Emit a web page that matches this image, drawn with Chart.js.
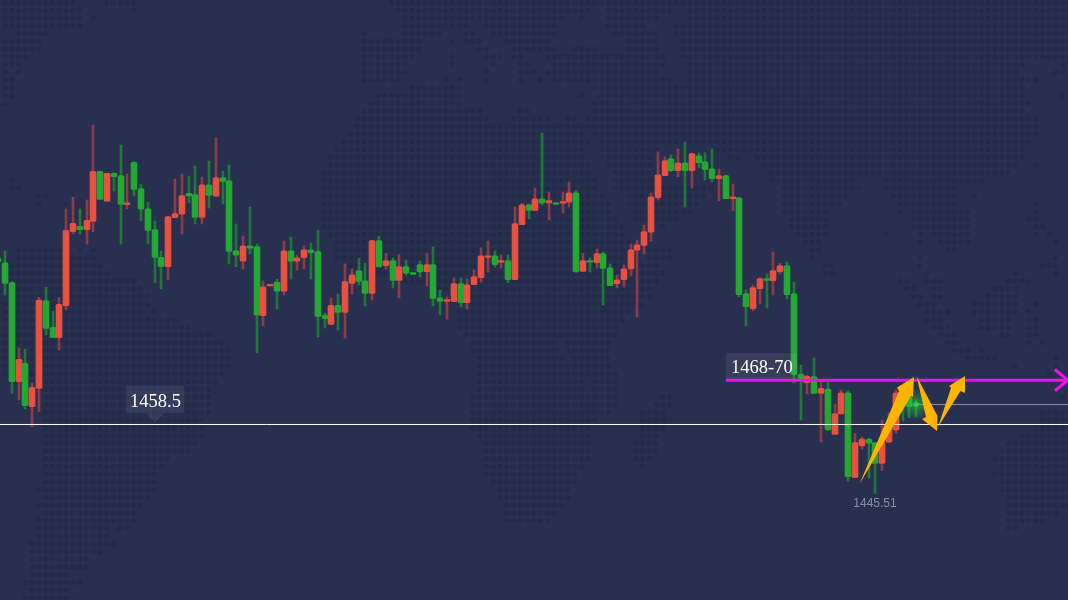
<!DOCTYPE html>
<html>
<head>
<meta charset="utf-8">
<title>Candles</title>
<script src="https://cdn.jsdelivr.net/npm/chart.js@4/dist/chart.umd.min.js"></script>
<style>
  html, body { margin: 0; padding: 0; background: #282f4f; overflow: hidden; }
  #wrap { width: 1068px; height: 600px; }
</style>
</head>
<body>
<div id="wrap"><canvas id="chart" width="1068" height="600"></canvas></div>
<script>
// candle values, first one starts just off the left edge
var opens = [1489.85,1488.96,1485.20,1466.56,1470.02,1461.85,1465.31,1481.81,1476.80,1474.84,1480.87,1494.80,1495.82,1495.18,1496.76,1506.17,1500.53,1505.80,1505.35,1499.88,1507.87,1502.90,1499.13,1495.18,1489.98,1488.21,1497.44,1498.08,1502.03,1501.77,1497.51,1503.65,1501.47,1504.97,1504.40,1491.22,1489.23,1492.16,1491.98,1478.98,1484.58,1485.33,1483.58,1491.22,1489.23,1489.90,1491.41,1491.04,1479.06,1477.36,1480.94,1479.62,1485.08,1487.46,1485.57,1483.20,1493.11,1488.40,1489.34,1485.65,1488.21,1487.08,1488.59,1487.27,1488.59,1482.37,1481.69,1481.62,1485.01,1481.43,1484.82,1486.14,1489.98,1490.28,1489.04,1489.34,1485.76,1496.12,1499.88,1498.83,1501.01,1500.21,1500.26,1500.15,1500.34,1502.14,1487.34,1489.34,1488.96,1490.66,1488.02,1485.01,1485.76,1487.78,1491.30,1492.24,1494.69,1501.20,1505.35,1508.55,1506.29,1507.79,1506.29,1509.11,1507.98,1506.66,1504.78,1505.35,1501.01,1501.20,1483.13,1480.30,1484.07,1485.95,1485.57,1487.27,1488.40,1483.13,1468.01,1466.37,1467.50,1464.37,1465.18,1456.65,1460.47,1464.48,1448.55,1454.45,1455.71,1455.07,1451.19,1455.15,1457.46,1464.86,1463.73,1462.49];
var highs = [1491.35,1491.17,1485.39,1472.90,1472.71,1466.25,1482.45,1484.33,1479.87,1482.45,1499.08,1501.28,1499.08,1500.77,1514.89,1506.23,1505.80,1505.91,1511.13,1505.67,1507.98,1503.73,1500.34,1496.82,1491.17,1497.63,1504.72,1505.67,1505.29,1507.17,1505.10,1508.11,1512.44,1506.23,1507.36,1496.25,1493.99,1499.45,1492.48,1485.52,1484.90,1485.84,1493.05,1493.80,1490.36,1492.11,1492.67,1495.06,1479.44,1482.32,1483.07,1488.72,1487.78,1489.79,1488.85,1493.11,1493.99,1490.73,1489.85,1490.41,1489.47,1487.08,1489.28,1490.79,1491.92,1483.82,1482.50,1486.08,1486.08,1485.89,1487.59,1491.73,1493.05,1491.17,1490.41,1490.41,1499.45,1500.15,1500.02,1503.03,1513.39,1502.28,1500.26,1502.28,1504.16,1502.60,1490.73,1489.85,1491.54,1490.98,1488.72,1486.65,1488.53,1492.48,1493.24,1496.06,1502.09,1509.81,1508.87,1509.24,1510.37,1511.69,1509.62,1509.62,1509.68,1510.37,1506.61,1505.48,1503.78,1501.33,1483.82,1484.76,1486.14,1486.84,1490.98,1488.85,1489.10,1485.33,1469.70,1467.82,1471.02,1466.88,1466.56,1462.36,1464.99,1464.86,1456.84,1456.09,1455.90,1455.07,1459.34,1460.66,1464.99,1465.75,1464.62,1463.11];
var lows = [1488.72,1482.88,1464.37,1463.11,1461.42,1458.08,1460.91,1475.35,1474.84,1472.52,1480.06,1494.37,1494.37,1492.48,1494.80,1500.90,1500.53,1502.46,1492.48,1499.08,1501.52,1496.87,1492.48,1485.20,1484.01,1485.71,1497.44,1494.37,1500.21,1496.25,1496.25,1499.26,1501.47,1500.02,1488.72,1488.21,1487.78,1490.60,1472.02,1477.04,1484.58,1480.25,1482.88,1485.89,1487.59,1487.78,1485.89,1474.97,1476.67,1477.36,1476.29,1474.78,1483.07,1484.76,1480.81,1481.94,1488.15,1487.78,1484.20,1482.32,1486.65,1486.78,1486.27,1484.58,1480.81,1479.12,1478.36,1481.62,1480.62,1480.25,1484.82,1485.33,1487.21,1488.15,1487.97,1485.20,1485.76,1496.12,1497.19,1498.83,1499.83,1497.00,1499.96,1498.32,1499.45,1487.21,1487.34,1487.21,1487.97,1481.00,1484.63,1484.20,1484.39,1486.46,1478.74,1490.60,1493.05,1500.77,1505.35,1506.10,1505.16,1499.45,1503.03,1506.80,1504.54,1504.16,1500.58,1501.01,1498.70,1482.56,1477.04,1479.93,1481.19,1480.43,1482.88,1486.84,1482.13,1466.31,1459.34,1464.24,1464.37,1455.20,1457.46,1456.65,1460.47,1447.86,1448.55,1453.88,1448.42,1445.51,1449.80,1455.15,1456.84,1459.16,1459.78,1459.97];
var closes = [1489.10,1485.08,1466.56,1470.77,1462.04,1465.50,1481.94,1476.61,1474.84,1481.13,1495.06,1496.38,1495.18,1496.95,1506.17,1500.90,1505.80,1505.16,1499.96,1500.26,1502.78,1499.02,1495.06,1489.98,1488.21,1497.63,1498.19,1501.58,1501.52,1497.51,1503.65,1501.65,1504.97,1504.29,1491.11,1490.36,1492.16,1491.68,1479.06,1484.44,1484.90,1483.58,1491.22,1489.23,1489.90,1491.41,1490.85,1478.87,1478.42,1480.94,1479.62,1485.39,1486.70,1485.46,1483.20,1493.11,1488.15,1489.34,1485.65,1488.21,1486.97,1486.78,1487.21,1488.59,1482.26,1481.69,1482.00,1485.01,1481.43,1484.82,1486.33,1490.28,1490.28,1488.59,1489.34,1485.76,1496.31,1499.88,1498.83,1501.01,1500.15,1500.64,1499.96,1500.45,1502.14,1487.21,1489.34,1489.04,1490.66,1487.91,1484.63,1485.76,1487.83,1491.41,1492.35,1494.80,1501.39,1505.53,1508.17,1506.29,1507.79,1506.29,1509.49,1507.79,1506.48,1504.78,1505.35,1501.01,1501.39,1482.94,1480.68,1484.26,1485.95,1485.65,1487.46,1488.40,1482.94,1467.95,1467.12,1467.57,1464.37,1465.31,1457.46,1460.53,1464.48,1448.67,1455.07,1455.77,1454.96,1451.19,1455.26,1458.08,1464.48,1462.73,1461.85,1462.04];

var supportPrice = 1458.5;
var targetPrice = 1466.85;
var lastPrice = 1462.27;
var lowPrice = 1445.51;
var supportLabel = "1458.5";
var targetLabel = "1468-70";

// dotted world map in the background, row -> [first col, last col]
var mapRows = [
  [[0,10],[15,19],[57,157]],
  [[0,11],[19,19],[58,86],[89,98],[101,157]],
  [[0,11],[13,13],[59,82],[85,85],[89,96],[101,157]],
  [[0,11],[59,68],[71,81],[89,94],[99,157]],
  [[2,6],[53,53],[59,64],[68,69],[72,81],[90,96],[99,157]],
  [[0,5],[53,61],[66,66],[68,70],[74,80],[92,96],[100,157]],
  [[0,5],[53,61],[70,71],[75,81],[84,87],[92,96],[100,157]],
  [[0,3],[53,60],[66,66],[71,73],[75,76],[80,97],[100,157]],
  [[0,2],[53,59],[66,66],[72,72],[76,77],[81,97],[101,150],[156,156]],
  [[0,0],[2,2],[53,59],[71,71],[76,78],[80,96],[101,149],[155,156]],
  [[0,1],[53,58],[65,65],[67,67],[71,71],[76,76],[79,79],[81,98],[101,152]],
  [[0,1],[60,67],[87,150]],
  [[0,1],[55,67],[85,85],[88,150],[156,156]],
  [[0,0],[54,67],[87,151]],
  [[53,70],[76,77],[87,150]],
  [[52,71],[75,80],[83,84],[86,152]],
  [[52,152]],
  [[51,85],[87,152]],
  [[50,86],[88,151]],
  [[49,85],[88,96],[105,150]],
  [[48,85],[88,95],[107,108],[111,150]],
  [[48,86],[89,95],[112,149],[152,152]],
  [[47,86],[90,96],[113,148]],
  [[1,1],[47,87],[90,96],[113,125],[130,144]],
  [[1,2],[47,87],[90,104],[115,126],[130,140]],
  [[5,6],[47,88],[92,103],[115,124],[131,140],[143,143]],
  [[5,5],[9,9],[47,89],[92,102],[115,123],[132,140],[152,152]],
  [[47,89],[93,101],[115,121],[132,132],[134,142],[152,152]],
  [[47,90],[93,99],[116,121],[134,142],[151,152]],
  [[47,91],[97,97],[116,121],[134,142],[152,153]],
  [[48,91],[117,121],[130,130],[135,135],[137,142],[152,152],[154,154]],
  [[49,92],[118,120],[135,135],[138,142],[155,155]],
  [[2,8],[11,11],[13,13],[49,92],[95,98],[119,120],[139,140]],
  [[2,13],[49,93],[95,98],[119,119],[135,135],[155,155]],
  [[1,14],[51,96],[121,122],[135,135],[153,155]],
  [[1,15],[52,97],[121,122],[136,136],[149,149],[155,155]],
  [[1,19],[58,96],[132,133],[136,138],[148,151]],
  [[2,20],[63,95],[133,134],[137,138],[146,149]],
  [[1,21],[66,95],[134,135],[137,138],[145,149]],
  [[0,21],[69,94],[135,137],[143,149],[152,152]],
  [[0,20],[22,22],[67,92],[136,139],[143,149],[151,151]],
  [[0,25],[67,91],[136,138],[144,148],[151,152]],
  [[0,27],[67,90],[137,139],[144,148],[151,152]],
  [[0,30],[68,90],[138,140],[147,148],[151,152]],
  [[0,32],[69,81],[83,89],[139,140],[151,151],[153,153]],
  [[0,33],[69,81],[83,89],[140,142],[144,144]],
  [[0,33],[70,82],[84,89],[142,146],[155,155]],
  [[0,33],[70,89],[149,149],[155,155]],
  [[0,32],[70,90],[154,154]],
  [[6,31],[70,85],[87,90]],
  [[6,30],[70,85],[87,90]],
  [[6,30],[69,90],[97,98],[156,156]],
  [[6,30],[69,90],[96,98]],
  [[6,30],[69,89],[94,97],[153,157]],
  [[6,29],[69,87],[94,97],[153,157]],
  [[6,29],[69,86],[94,97],[152,157]],
  [[6,29],[70,86],[94,96],[150,157]],
  [[6,28],[71,86],[93,96],[148,157]],
  [[6,27],[71,86],[93,96],[147,157]],
  [[6,24],[71,86],[93,95],[146,157]],
  [[6,23],[71,85],[94,94],[147,157]],
  [[6,22],[71,84],[146,157]],
  [[6,22],[72,84],[147,157]],
  [[5,22],[73,83],[147,157]],
  [[6,21],[73,83],[148,157]],
  [[5,20],[74,82],[148,157]],
  [[6,19],[74,81],[148,155]],
  [[5,19],[74,80],[148,153]],
  [[5,15],[17,18],[148,149]],
  [[5,15]],
  [[4,16]],
  [[4,14]],
  [[4,12]],
  [[4,12]],
  [[4,9]],
  [[3,11]],
  [[4,9]],
  [[3,9]]
];

// hand drawn arrows on top of the chart
var arrowShapes = [
  [[859.5,484],[899,391],[897,387.5],[914,377],[913,397],[911,396]],
  [[916.5,376],[937.5,416],[937,431],[922,419],[926,417]],
  [[938,427],[951,388],[949,386],[965,376],[965,393],[960.5,391]]
];

var CHART_TOP = 1538.43;
var CHART_BOTTOM = 1425.45;
var RED = "#e8503f";
var GREEN = "#22a833";
var RED_WICK = "#8a3d49";
var GREEN_WICK = "#1f7838";

function candleColor(i, up, down) {
  return closes[i] >= opens[i] ? up : down;
}

var wicks = [], bodies = [], wickColors = [], bodyColors = [];
for (var i = 0; i < opens.length; i++) {
  wicks.push({ x: i - 1, y: [lows[i], highs[i]] });
  bodies.push({ x: i - 1, y: [opens[i], closes[i]] });
  wickColors.push(candleColor(i, RED_WICK, GREEN_WICK));
  bodyColors.push(candleColor(i, RED, GREEN));
}
var lastIndex = opens.length - 2;

var backgroundMap = {
  id: "backgroundMap",
  beforeDatasetsDraw: function(chart) {
    var ctx = chart.ctx;
    ctx.save();
    ctx.fillStyle = "#232b48";
    mapRows.forEach(function(runs, r) {
      runs.forEach(function(run) {
        for (var c = run[0]; c <= run[1]; c++) {
          ctx.beginPath();
          ctx.arc(5 + 6.78 * c, 2.7 + 7.73 * r, 2.5, 0, Math.PI * 2);
          ctx.fill();
        }
      });
    });
    ctx.restore();
  }
};

// keeps the candles on whole pixels, the original looks crisp
var snapCandles = {
  id: "snapCandles",
  afterDatasetsUpdate: function(chart) {
    [0, 1].forEach(function(d) {
      chart.getDatasetMeta(d).data.forEach(function(el) {
        el.x = Math.round(el.x);
      });
    });
  }
};

function priceBox(ctx, x, y, w, h, pointerX) {
  ctx.fillStyle = "rgba(255,255,255,0.07)";
  ctx.beginPath();
  ctx.rect(x, y, w, h);
  ctx.fill();
  if (pointerX) {
    ctx.beginPath();
    ctx.moveTo(pointerX - 9, y + h);
    ctx.lineTo(pointerX, y + h + 10);
    ctx.lineTo(pointerX + 9, y + h);
    ctx.closePath();
    ctx.fill();
  }
}

var overlays = {
  id: "overlays",
  afterDatasetsDraw: function(chart) {
    var ctx = chart.ctx;
    var xs = chart.scales.x, ys = chart.scales.y;
    ctx.save();

    // glow on the last candle
    var gx = xs.getPixelForValue(lastIndex), gy = ys.getPixelForValue(lastPrice);
    var glow = ctx.createRadialGradient(gx, gy, 1, gx, gy, 16);
    glow.addColorStop(0, "rgba(40,220,70,0.55)");
    glow.addColorStop(1, "rgba(40,220,70,0)");
    ctx.fillStyle = glow;
    ctx.fillRect(gx - 16, gy - 16, 32, 32);
    ctx.fillStyle = "#2fd24a";
    ctx.beginPath();
    ctx.arc(gx, gy, 2.2, 0, Math.PI * 2);
    ctx.fill();

    priceBox(ctx, 126, 386, 58, 27, 155);
    priceBox(ctx, 726, 353, 71, 26);

    ctx.fillStyle = "#ffffff";
    ctx.font = "18.5px 'Liberation Serif'";
    ctx.textBaseline = "alphabetic";
    ctx.textAlign = "left";
    ctx.fillText(supportLabel, 130, 407);
    ctx.fillText(targetLabel, 731, 373);

    ctx.fillStyle = "#8b8f9e";
    ctx.font = "12px 'Liberation Sans'";
    ctx.textAlign = "center";
    ctx.fillText(lowPrice.toFixed(2), 875, 507);

    ctx.fillStyle = "#ffb400";
    arrowShapes.forEach(function(points) {
      ctx.beginPath();
      points.forEach(function(p, n) {
        if (n === 0) ctx.moveTo(p[0], p[1]);
        else ctx.lineTo(p[0], p[1]);
      });
      ctx.closePath();
      ctx.fill();
    });
    ctx.restore();
  }
};

var ctx = document.getElementById("chart").getContext("2d");
new Chart(ctx, {
  data: {
    datasets: [
      {
        type: "bar", order: 6, data: wicks, barThickness: 2, grouped: false,
        backgroundColor: wickColors, borderWidth: 0
      },
      {
        type: "bar", order: 5, data: bodies, barThickness: 6, grouped: false,
        backgroundColor: bodyColors, borderWidth: 0, borderRadius: 1.5, borderSkipped: false
      },
      {
        type: "line", order: 4, borderColor: "#8d909f", borderWidth: 1, pointRadius: 0,
        data: [{ x: lastIndex, y: lastPrice }, { x: 157, y: lastPrice }]
      },
      {
        type: "line", order: 3, borderColor: "#ffffff", borderWidth: 1, pointRadius: 0,
        data: [{ x: -1, y: supportPrice }, { x: 157, y: supportPrice }]
      },
      {
        type: "line", order: 2, borderColor: "#f010e8", borderWidth: 3, pointRadius: 0,
        data: [{ x: 106, y: targetPrice }, { x: 156.3, y: targetPrice }]
      },
      {
        type: "line", order: 1, borderColor: "#f010e8", borderWidth: 3, pointRadius: 0,
        data: [{ x: 154.4, y: targetPrice + 2 }, { x: 156.3, y: targetPrice }, { x: 154.4, y: targetPrice - 2 }]
      }
    ]
  },
  options: {
    responsive: false,
    animation: false,
    events: [],
    layout: { padding: 0 },
    plugins: { legend: { display: false }, tooltip: { enabled: false } },
    scales: {
      x: { type: "linear", display: false, min: -0.735, max: 156.325, offset: false, grid: { display: false } },
      y: { type: "linear", display: false, min: CHART_BOTTOM, max: CHART_TOP, grid: { display: false } }
    }
  },
  plugins: [backgroundMap, snapCandles, overlays]
});
</script>
</body>
</html>
